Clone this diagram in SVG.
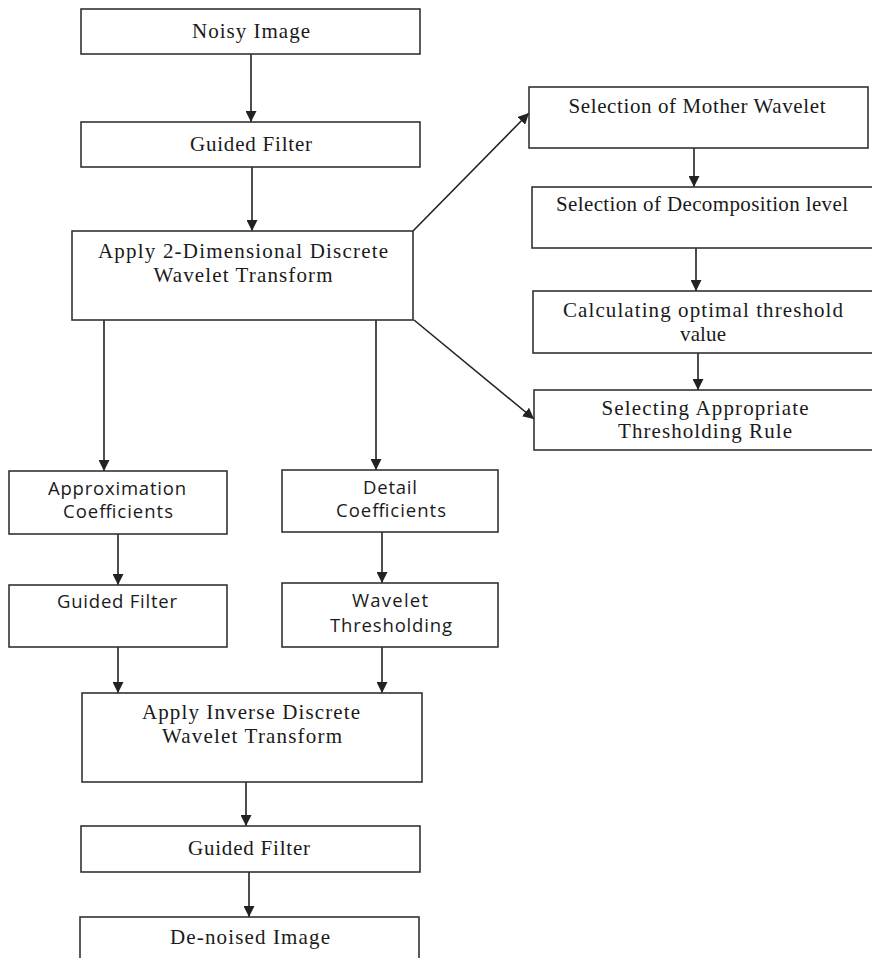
<svg xmlns="http://www.w3.org/2000/svg" width="872" height="958" viewBox="0 0 872 958">
  <defs>
    <marker id="arrow" viewBox="0 0 10 10" refX="10" refY="5" markerWidth="11" markerHeight="11" markerUnits="userSpaceOnUse" orient="auto">
      <path d="M0,0 L10,5 L0,10 Z" fill="#222"/>
    </marker>
    <style>
      .box { fill: #fff; stroke: #333; stroke-width: 1.6; }
      .edge { fill: none; stroke: #222; stroke-width: 1.6; marker-end: url(#arrow); }
      .serif { font-family: "Liberation Serif", "Times New Roman", serif; font-size: 21px; fill: #1a1a1a; }
      .sans { font-family: "Open Sans", "Liberation Sans", sans-serif; font-size: 18.5px; fill: #1a1a1a; }
    </style>
  </defs>
  <rect width="872" height="958" fill="#fff"/>

  <!-- connectors -->
  <g id="connectors">
    <line class="edge" x1="251" y1="54" x2="251" y2="122"/>
    <line class="edge" x1="252" y1="167" x2="252" y2="231"/>
    <line class="edge" x1="413" y1="231" x2="529" y2="113"/>
    <line class="edge" x1="414" y1="320" x2="534" y2="419"/>
    <line class="edge" x1="694" y1="148" x2="694" y2="187"/>
    <line class="edge" x1="696" y1="248" x2="696" y2="291"/>
    <line class="edge" x1="698" y1="353" x2="698" y2="390"/>
    <line class="edge" x1="104" y1="320" x2="104" y2="471"/>
    <line class="edge" x1="376" y1="320" x2="376" y2="470"/>
    <line class="edge" x1="118" y1="534" x2="118" y2="585"/>
    <line class="edge" x1="382" y1="532" x2="382" y2="583"/>
    <line class="edge" x1="118" y1="647" x2="118" y2="693"/>
    <line class="edge" x1="382" y1="647" x2="382" y2="693"/>
    <line class="edge" x1="246" y1="782" x2="246" y2="826"/>
    <line class="edge" x1="249" y1="872" x2="249" y2="917"/>
  </g>

  <g id="noisy-image">
    <rect class="box" x="81" y="9" width="339" height="45"/>
    <text class="serif" x="251" y="38" text-anchor="middle" textLength="118">Noisy Image</text>
  </g>

  <g id="guided-filter-1">
    <rect class="box" x="81" y="122" width="339" height="45"/>
    <text class="serif" x="251" y="151" text-anchor="middle" textLength="122">Guided Filter</text>
  </g>

  <g id="dwt">
    <rect class="box" x="72" y="231" width="341" height="89"/>
    <text class="serif" x="243" y="258" text-anchor="middle" textLength="290">Apply 2-Dimensional Discrete</text>
    <text class="serif" x="243" y="282" text-anchor="middle" textLength="179">Wavelet Transform</text>
  </g>

  <g id="mother-wavelet">
    <rect class="box" x="529" y="87" width="339" height="61"/>
    <text class="serif" x="697" y="113" text-anchor="middle" textLength="257">Selection of Mother Wavelet</text>
  </g>

  <g id="decomposition-level">
    <rect class="box" x="532" y="187" width="341" height="61"/>
    <text class="serif" x="702" y="211" text-anchor="middle" textLength="292">Selection of Decomposition level</text>
  </g>

  <g id="optimal-threshold">
    <rect class="box" x="533" y="291" width="340" height="62"/>
    <text class="serif" x="703" y="317" text-anchor="middle" textLength="280">Calculating optimal threshold</text>
    <text class="serif" x="703" y="341" text-anchor="middle" textLength="46">value</text>
  </g>

  <g id="thresholding-rule">
    <rect class="box" x="534" y="390" width="341" height="60"/>
    <text class="serif" x="705" y="415" text-anchor="middle" textLength="207">Selecting Appropriate</text>
    <text class="serif" x="705" y="438" text-anchor="middle" textLength="174">Thresholding Rule</text>
  </g>

  <g id="approximation-coefficients">
    <rect class="box" x="9" y="471" width="218" height="63"/>
    <text class="sans" x="117" y="495" text-anchor="middle" textLength="138">Approximation</text>
    <text class="sans" x="118" y="518" text-anchor="middle" textLength="110">Coefficients</text>
  </g>

  <g id="detail-coefficients">
    <rect class="box" x="282" y="470" width="216" height="62"/>
    <text class="sans" x="390" y="494" text-anchor="middle" textLength="54">Detail</text>
    <text class="sans" x="391" y="517" text-anchor="middle" textLength="110">Coefficients</text>
  </g>

  <g id="guided-filter-2">
    <rect class="box" x="9" y="585" width="218" height="62"/>
    <text class="sans" x="117" y="608" text-anchor="middle" textLength="120">Guided Filter</text>
  </g>

  <g id="wavelet-thresholding">
    <rect class="box" x="282" y="583" width="216" height="64"/>
    <text class="sans" x="390" y="607" text-anchor="middle" textLength="76">Wavelet</text>
    <text class="sans" x="391" y="632" text-anchor="middle" textLength="122">Thresholding</text>
  </g>

  <g id="idwt">
    <rect class="box" x="82" y="693" width="340" height="89"/>
    <text class="serif" x="251" y="719" text-anchor="middle" textLength="218">Apply Inverse Discrete</text>
    <text class="serif" x="252" y="743" text-anchor="middle" textLength="180">Wavelet Transform</text>
  </g>

  <g id="guided-filter-3">
    <rect class="box" x="81" y="826" width="339" height="46"/>
    <text class="serif" x="249" y="855" text-anchor="middle" textLength="122">Guided Filter</text>
  </g>

  <g id="denoised-image">
    <rect class="box" x="80" y="917" width="339" height="50"/>
    <text class="serif" x="250" y="944" text-anchor="middle" textLength="160">De-noised Image</text>
  </g>
</svg>
